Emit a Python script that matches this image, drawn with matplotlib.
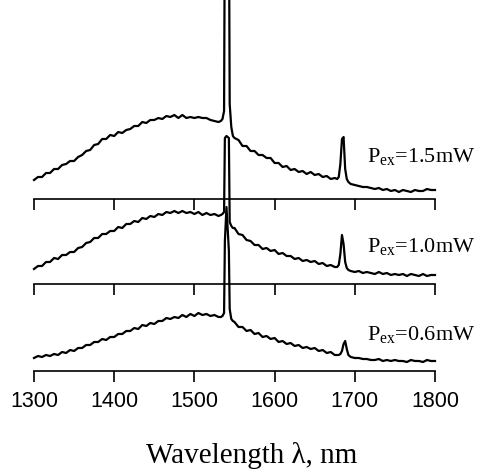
import matplotlib
matplotlib.use("Agg")
import matplotlib.pyplot as plt

plt.rcParams['mathtext.fontset'] = 'custom'
plt.rcParams['mathtext.rm'] = 'Liberation Serif'
plt.rcParams['mathtext.it'] = 'Liberation Serif:italic'

# wavelength grid (nm)
wl = (list(range(1300, 1531, 5))
      + [1533, 1535, 1537, 1538, 1540, 1543, 1544, 1546, 1548]
      + list(range(1550, 1676, 5))
      + [1678, 1680, 1682, 1684, 1686, 1688, 1690, 1692]
      + list(range(1695, 1801, 5)))

# intensities (arb. units), P_ex = 1.5 mW
i_15 = ([19, 22, 22, 26, 26, 30, 30, 34, 35, 38, 38, 42, 44, 48, 49, 54, 55, 60, 60, 64,
         63, 67, 66, 69, 70, 73, 73, 77, 76, 79, 79, 81, 80, 83, 82, 84, 81, 84, 81, 82,
         81, 82, 81, 81, 79, 78, 77]
        + [78, 80, 88, 300, 300, 300, 95, 72, 63]
        + [61, 59, 53, 53, 48, 48, 44, 44, 41, 41, 36, 36, 32, 33, 29, 30, 27, 28, 25, 27,
           24, 25, 22, 23, 20, 21]
        + [20, 22, 35, 60, 62, 30, 20, 17]
        + [15, 14, 13, 12, 12, 11, 10, 11, 9, 10, 8, 9, 7, 9, 8, 7, 9, 8, 8, 10, 9, 9])

# P_ex = 1.0 mW
i_10 = ([15, 18, 18, 22, 22, 26, 25, 29, 29, 32, 32, 36, 37, 41, 42, 46, 46, 50, 50, 53,
         53, 57, 56, 60, 60, 63, 62, 66, 65, 68, 67, 70, 69, 72, 71, 73, 71, 73, 71, 72,
         70, 72, 69, 71, 69, 70, 68]
        + [69, 70, 72, 146, 148, 146, 62, 58, 56]
        + [56, 50, 49, 44, 43, 39, 39, 35, 36, 33, 34, 30, 31, 28, 28, 25, 26, 23, 24, 22,
           23, 20, 21, 18, 19, 17]
        + [17, 19, 30, 49, 40, 22, 16, 14]
        + [13, 12, 13, 11, 12, 11, 10, 12, 10, 11, 9, 10, 9, 10, 8, 10, 9, 8, 10, 8, 9, 9])

# P_ex = 0.6 mW
i_06 = ([13, 15, 14, 16, 15, 17, 16, 19, 18, 21, 20, 23, 23, 26, 26, 29, 29, 32, 31, 34,
         34, 37, 37, 40, 40, 43, 42, 46, 45, 48, 47, 50, 50, 53, 52, 54, 53, 56, 54, 57,
         55, 58, 56, 57, 55, 56, 54]
        + [54, 55, 58, 130, 164, 120, 62, 52, 50]
        + [49, 44, 44, 40, 41, 37, 38, 34, 35, 32, 33, 29, 30, 27, 28, 25, 26, 23, 24, 22,
           23, 20, 21, 18, 19, 16]
        + [16, 16, 17, 20, 27, 30, 22, 16]
        + [14, 13, 13, 12, 12, 11, 11, 12, 10, 11, 10, 11, 10, 10, 9, 11, 10, 10, 9, 11, 10, 10])

labels = [r'P$_{\rm ex}$=1.5mW', r'P$_{\rm ex}$=1.0mW', r'P$_{\rm ex}$=0.6mW']
ticks = [1300, 1400, 1500, 1600, 1700, 1800]

W, H = 482, 477
fig = plt.figure(figsize=(W / 100, H / 100), dpi=100)

left = 34 / W
width = 401 / W
# (axis line y in px from top, panel height px, label height)
panels = [(200, 200, 38), (285, 85, 33), (372, 87, 32)]
series = [i_15, i_10, i_06]

for k, ((ypx, hpx, lab_h), data, lab) in enumerate(zip(panels, series, labels)):
    ax = fig.add_axes([left, (H - ypx) / H, width, hpx / H])
    ax.patch.set_visible(False)
    ax.plot(wl, data, color='black', lw=1.6, clip_on=False, zorder=3)
    ax.set_xlim(1300, 1800)
    ax.set_ylim(0, hpx)
    for s in ['top', 'left', 'right']:
        ax.spines[s].set_visible(False)
    ax.spines['bottom'].set_linewidth(1.2)
    ax.set_yticks([])
    ax.set_xticks(ticks)
    ax.tick_params(axis='x', direction='out', length=8, width=1.2, pad=6,
                   labelsize=15.5)
    if k < 2:
        ax.set_xticklabels([])
    else:
        ax.set_xticklabels([str(t) for t in ticks], fontfamily='Liberation Sans')
    ax.text(1715, lab_h, lab, fontsize=16, ha='left', va='baseline',
            fontfamily='Liberation Serif')

fig.text(252 / W, (H - 463) / H, 'Wavelength λ, nm', ha='center', va='baseline',
         fontsize=21, fontfamily='Liberation Serif')

fig.savefig('out.png', dpi=100)
